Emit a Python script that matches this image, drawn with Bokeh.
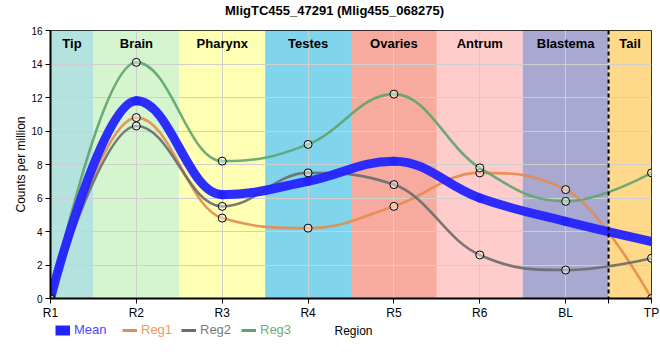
from bokeh.plotting import figure
from bokeh.layouts import column
from bokeh.models import (BoxAnnotation, Span, Label, Legend, LegendItem,
                          FixedTicker, Range1d)
from bokeh.embed import file_html
from bokeh.resources import INLINE

# ---------------- data ----------------
title_text = "MligTC455_47291 (Mlig455_068275)"
regions = ["R1", "R2", "R3", "R4", "R5", "R6", "BL", "TP"]
mean = [0, 11.8, 6.2, 7.0, 8.2, 6.0, 4.6, 3.4]
reg1 = [0, 10.8, 4.8, 4.2, 5.5, 7.5, 6.5, 0]
reg2 = [0, 10.3, 5.5, 7.5, 6.8, 2.6, 1.7, 2.4]
reg3 = [0, 14.1, 8.2, 9.2, 12.2, 7.8, 5.8, 7.5]
series_names = ["Mean", "Reg1", "Reg2", "Reg3"]
band_names = ["Tip", "Brain", "Pharynx", "Testes", "Ovaries", "Antrum", "Blastema", "Tail"]
band_edges = [0, 0.5, 1.5, 2.5, 3.5, 4.5, 5.5, 6.5, 7]
y_ticks = [0, 2, 4, 6, 8, 10, 12, 14, 16]

# ---------------- styles ----------------
band_colors = ["#b4e2de", "#d5f5cf", "#ffffb3", "#80d4ec",
               "#f6ab9e", "#ffcccc", "#a8a8d0", "#ffd98a"]
series_colors = ["#2323ff", "#e48b4d", "#6b6b6b", "#5ea46e"]
legend_text_colors = ["#4848ff", "#eb9a64", "#7a7a7a", "#6aae7c"]
FONT = "Liberation Sans, Arial, sans-serif"

xs = list(range(len(regions)))

# frame geometry of the main plot (pixels)
FRAME_L, FRAME_R = 50, 651


def spline_controls(px, py, smoothing=1.5):
    """Smooth spline (cubic Bezier) control points through the data points."""
    n = len(px)
    denom = smoothing + 1.0
    left = [None] * n
    right = [None] * n
    for i in range(1, n - 1):
        lx, ly = px[i - 1], py[i - 1]
        nx, ny = px[i + 1], py[i + 1]
        x, y = px[i], py[i]
        lcx = (smoothing * x + lx) / denom
        lcy = (smoothing * y + ly) / denom
        rcx = (smoothing * x + nx) / denom
        rcy = (smoothing * y + ny) / denom
        corr = 0.0
        if rcx != lcx:
            corr = (rcy - lcy) * (rcx - x) / (rcx - lcx) + y - rcy
        lcy += corr
        rcy += corr
        if lcy > ly and lcy > y:
            lcy = max(ly, y)
            rcy = 2 * y - lcy
        elif lcy < ly and lcy < y:
            lcy = min(ly, y)
            rcy = 2 * y - lcy
        if rcy > ny and rcy > y:
            rcy = max(ny, y)
            lcy = 2 * y - rcy
        elif rcy < ny and rcy < y:
            rcy = min(ny, y)
            lcy = 2 * y - rcy
        left[i] = (lcx, lcy)
        right[i] = (rcx, rcy)
    seg = dict(x0=[], y0=[], x1=[], y1=[], cx0=[], cy0=[], cx1=[], cy1=[])
    for i in range(1, n):
        c0 = right[i - 1] or (px[i - 1], py[i - 1])
        c1 = left[i] or (px[i], py[i])
        seg["x0"].append(px[i - 1]); seg["y0"].append(py[i - 1])
        seg["x1"].append(px[i]); seg["y1"].append(py[i])
        seg["cx0"].append(c0[0]); seg["cy0"].append(c0[1])
        seg["cx1"].append(c1[0]); seg["cy1"].append(c1[1])
    return seg


def blank_figure(h):
    # its frame is aligned with the main plot's frame inside the column
    f = figure(width=660, height=h, output_backend="svg", toolbar_location=None,
               x_range=Range1d(FRAME_L, FRAME_R), y_range=Range1d(0, h),
               x_axis_type=None, y_axis_type=None, min_border=0,
               min_border_left=FRAME_L, min_border_right=660 - FRAME_R)
    f.outline_line_color = None
    f.grid.visible = False
    f.background_fill_color = "white"
    f.border_fill_color = "white"
    return f


# ---------------- title row ----------------
tf = blank_figure(24)
tf.add_layout(Label(x=334, y=14, text=title_text, text_align="center",
                    text_baseline="middle", text_font=FONT,
                    text_font_size="13px", text_font_style="bold",
                    text_color="black"))

# ---------------- main plot ----------------
p = figure(width=660, height=298, output_backend="svg", toolbar_location=None,
           x_range=Range1d(0, 7), y_range=Range1d(0, 16),
           min_border_left=FRAME_L, min_border_right=660 - FRAME_R,
           min_border_top=6, min_border_bottom=22)
p.background_fill_color = "white"
p.border_fill_color = "white"
p.outline_line_color = "black"
p.outline_line_width = 1

# bands
for left_e, right_e, col in zip(band_edges[:-1], band_edges[1:], band_colors):
    p.add_layout(BoxAnnotation(left=left_e, right=right_e, fill_color=col,
                               fill_alpha=1.0, line_alpha=0, level="image"))
for left_e, right_e, name in zip(band_edges[:-1], band_edges[1:], band_names):
    p.add_layout(Label(x=(left_e + right_e) / 2, y=16, y_offset=-5, text=name,
                       text_align="center", text_baseline="top",
                       text_font=FONT, text_font_size="13px",
                       text_font_style="bold", text_color="black"))

# axes and grid
p.xaxis.ticker = FixedTicker(ticks=xs + [6.5])
p.xaxis.major_label_overrides = {**{i: r for i, r in enumerate(regions)}, 6.5: ""}
p.yaxis.ticker = FixedTicker(ticks=y_ticks)
p.xgrid.ticker = FixedTicker(ticks=xs)
for g in (p.xgrid, p.ygrid):
    g.grid_line_color = "#cfcfcf"
    g.grid_line_width = 1
for ax in (p.xaxis, p.yaxis):
    ax.axis_line_width = 2
    ax.axis_line_color = "black"
    ax.major_tick_line_color = "black"
    ax.major_tick_line_width = 1
    ax.major_tick_out = 5
    ax.major_tick_in = 0
    ax.minor_tick_line_color = None
    ax.major_label_text_font = FONT
    ax.axis_label_text_font = FONT
    ax.axis_label_text_font_style = "normal"
    ax.axis_label_text_font_size = "12px"
    ax.axis_label_text_color = "black"
    ax.major_label_text_color = "black"
p.xaxis.major_label_text_font_size = "12px"
p.yaxis.major_label_text_font_size = "10px"
p.xaxis.major_label_standoff = 2
p.yaxis.major_label_standoff = 3
p.yaxis.axis_label = "Counts per million"
p.yaxis.axis_label_standoff = 0

# lines
all_series = [mean, reg1, reg2, reg3]
widths = [9, 2.6, 2.6, 2.6]
order = [1, 2, 3, 0]
for k in order:
    seg = spline_controls(xs, all_series[k])
    p.bezier(x0="x0", y0="y0", x1="x1", y1="y1", cx0="cx0", cy0="cy0",
             cx1="cx1", cy1="cy1", source=seg, line_color=series_colors[k],
             line_width=widths[k], line_cap="round",
             line_alpha=0.95 if k == 0 else 0.9)
for k in (1, 2, 3):
    p.scatter(xs, all_series[k], size=8, marker="circle", fill_color="white",
              fill_alpha=0.45, line_color="black", line_width=1)

p.add_layout(Span(location=6.5, dimension="height", line_color="black",
                  line_width=2, line_dash="4 3"))

# ---------------- legend row (with the x axis title) ----------------
lf = blank_figure(24)
legend_page_x = [55, 122, 181, 241]
for k in range(4):
    # off-range stand-in renderer, only used to draw the legend swatch
    dummy = lf.line(x=[0, 10], y=[-50, -50], line_color=series_colors[k],
                    line_width=(10 if k == 0 else 3))
    lg = Legend(items=[LegendItem(label=series_names[k], renderers=[dummy])],
                location=(legend_page_x[k] - FRAME_L, 9),
                orientation="horizontal",
                label_text_color=legend_text_colors[k], label_text_font=FONT,
                label_text_font_size="13px", glyph_width=15, glyph_height=14,
                label_height=14, label_standoff=4, padding=0, margin=0,
                border_line_alpha=0, background_fill_alpha=0)
    lf.add_layout(lg)
lf.add_layout(Label(x=353, y=16, text="Region", text_align="center",
                    text_baseline="middle", text_font=FONT,
                    text_font_size="12px", text_color="black"))

layout = column(tf, p, lf, spacing=0)
open("out.html", "w").write(file_html(layout, INLINE))
